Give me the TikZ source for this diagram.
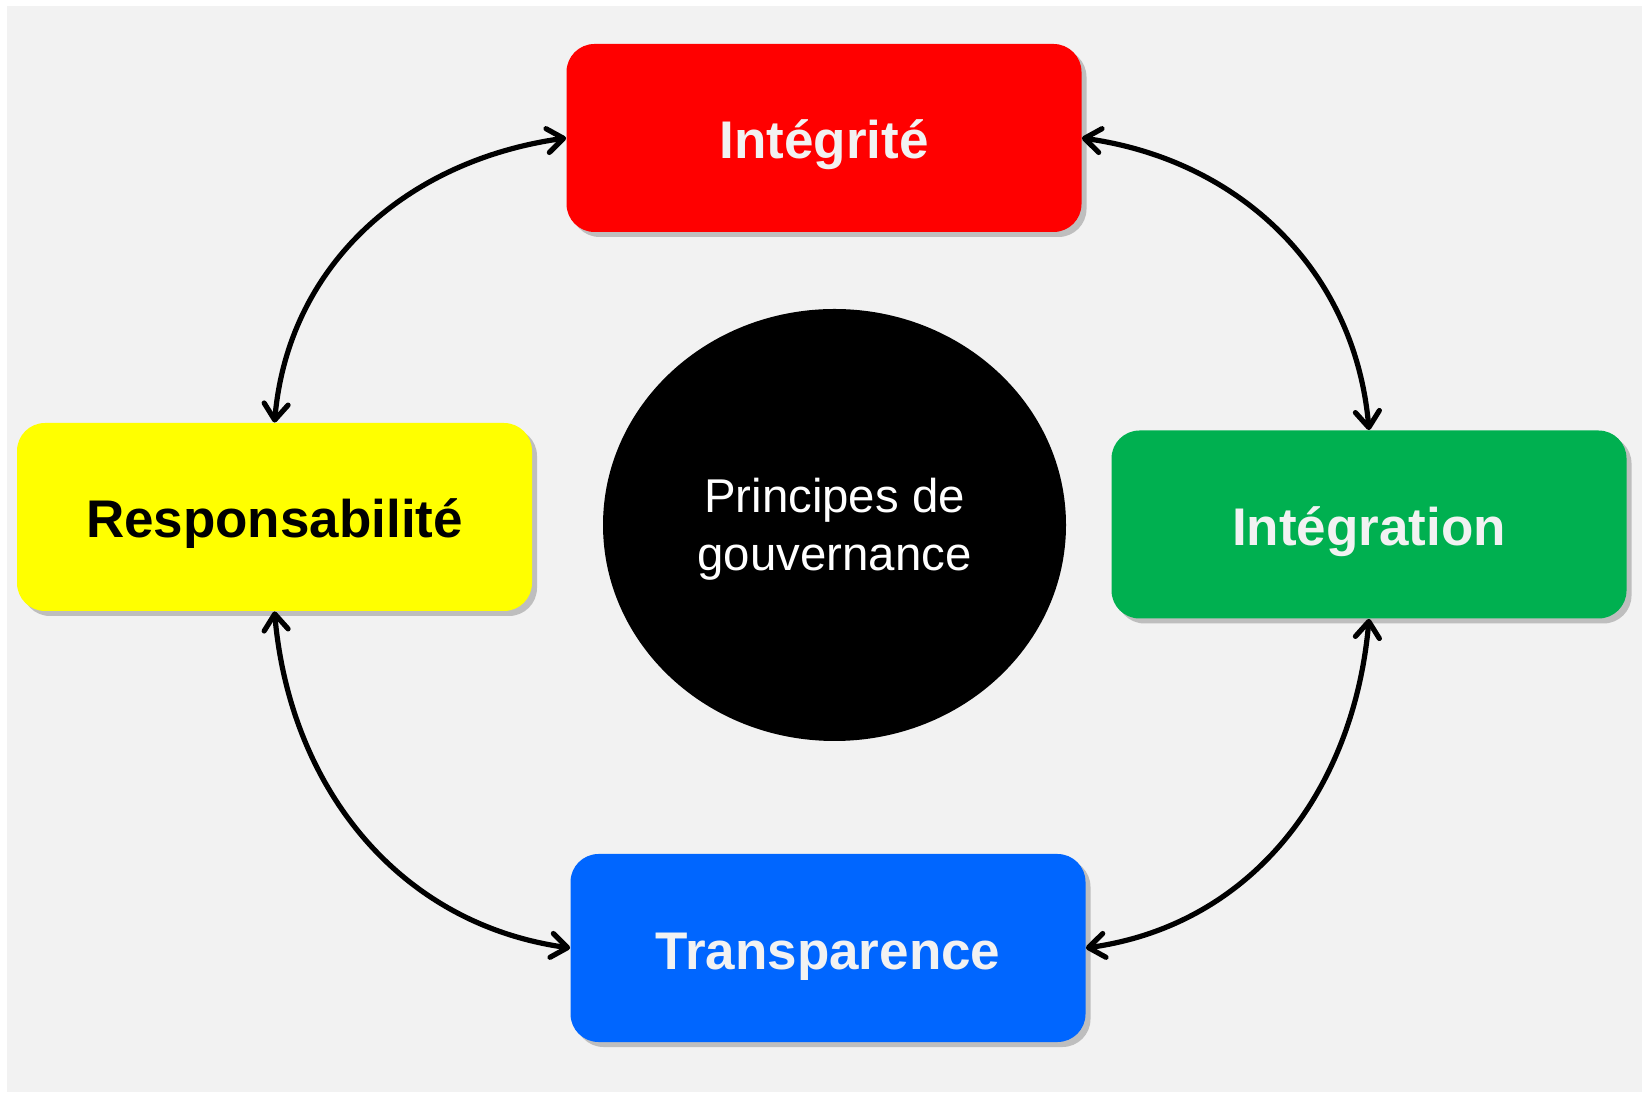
\documentclass[tikz,border=0pt]{standalone}
\usepackage{fontspec}
\setmainfont{Liberation Sans}
\usetikzlibrary{arrows.meta,shapes.geometric,shadows}

\definecolor{bggray}{HTML}{F2F2F2}
\definecolor{boxred}{HTML}{FF0000}
\definecolor{boxyellow}{HTML}{FFFF00}
\definecolor{boxgreen}{HTML}{00B050}
\definecolor{boxblue}{HTML}{0066FF}

\begin{document}
\begin{tikzpicture}[x=0.5pt,y=0.5pt,
	principle/.style={rectangle,rounded corners=14pt,minimum width=257.5pt,minimum height=94pt,inner sep=0pt,
		font=\fontsize{26.5}{30}\selectfont\bfseries,text=bggray,text height=21pt,text depth=0pt,
		drop shadow={shadow xshift=2.5pt,shadow yshift=-2.5pt,opacity=0.45}},
	link/.style={line width=2.6pt,line cap=round,{Straight Barb[round,length=8pt,width=12pt]}-{Straight Barb[round,length=8pt,width=12pt]}}]
\useasboundingbox (0,0) rectangle (1642,1092);
\fill[bggray] (7,0) rectangle (1642,1086);
\node[principle,fill=boxred] (integ) at (824, 954) {Intégrité};
\node[principle,fill=boxyellow,text=black] (resp) at (274.5, 575) {Responsabilité};
\node[principle,fill=boxgreen] (integr) at (1369, 567.5) {Intégration};
\node[principle,fill=boxblue] (transp) at (828, 144) {Transparence};
\node[ellipse,fill=black,text=white,minimum width=231.5pt,minimum height=216pt,inner sep=0pt,
	font=\fontsize{23.7}{28.8}\selectfont] (centre) at (834.5, 567)
	{\raisebox{-2.5pt}[\height][\depth]{\begin{tabular}{@{}c@{}}Principes de\\gouvernance\end{tabular}}};
\draw[link] (resp.north) to[out=85,in=188] (integ.west);
\draw[link] (integ.east) to[out=-8,in=95] (integr.north);
\draw[link] (integr.south) to[out=-95,in=8] (transp.east);
\draw[link] (transp.west) to[out=172,in=-85] (resp.south);
\end{tikzpicture}
\end{document}
